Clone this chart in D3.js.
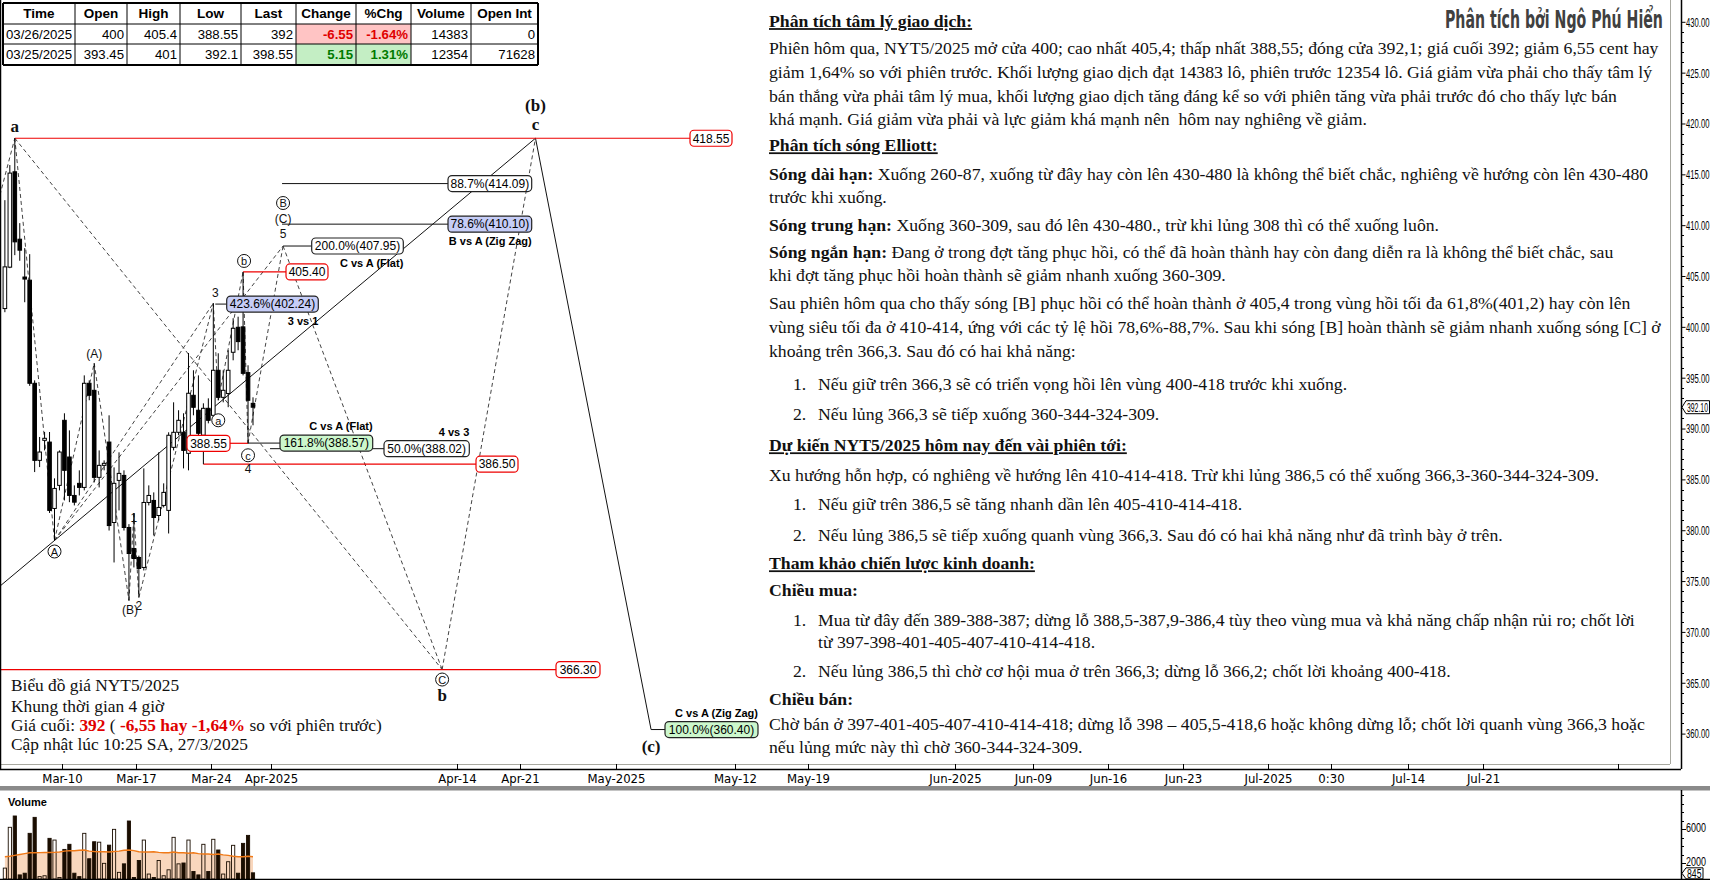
<!DOCTYPE html>
<html><head><meta charset="utf-8">
<script src="https://cdn.jsdelivr.net/npm/d3@7/dist/d3.min.js"></script>
<style>html,body{margin:0;padding:0;background:#fff;overflow:hidden}svg{display:block}</style>
</head><body>
<svg id="chart" width="1710" height="880"></svg>
<script>
// ================= DATA =================
const sessionDays = ["2025-03-04","2025-03-05","2025-03-06","2025-03-07","2025-03-10","2025-03-11","2025-03-12","2025-03-13","2025-03-14","2025-03-17","2025-03-18","2025-03-19","2025-03-20","2025-03-21","2025-03-24","2025-03-25","2025-03-26"];
const barHours = ["04:00","12:00","20:00"];
const opens  = [401.8,405.87,415.25,408.62,404.9,404.59,394.45,386.87,388.84,388.67,382.14,384.41,390.81,387.2,383.42,384.61,384.21,394.45,393.76,385.2,386.38,388.67,380.76,384.9,385.39,380.27,378.2,377.32,376.34,382.73,382.93,381.45,382.44,381.95,388.15,389.63,389.63,387.56,393.27,391.8,389.34,391.99,391.3,395.73,393.07,393.45,397.5,399.96,400.0,395.5,392.48];
const highs  = [412.46,415.91,418.55,410.2,407.74,407.15,394.74,389.17,389.66,389.66,385.1,387.85,391.5,389.82,384.41,385.89,395.23,394.74,396.42,387.85,386.87,391.3,386.18,387.66,385.89,380.6,381.65,377.5,386.08,384.41,383.72,387.66,384.61,389.63,392.58,391.8,391.5,397.43,395.73,395.23,392.48,392.97,402.32,397.4,395.73,397.7,400.85,401.0,405.4,396.22,393.07];
const lows   = [401.44,405.77,407.05,406.5,402.42,394.2,385.72,386.21,387.85,381.7,378.99,383.92,382.93,382.76,382.44,383.42,383.92,392.78,384.7,384.21,385.89,379.97,376.83,381.95,379.97,373.09,376.34,373.39,376.04,382.44,379.48,380.96,382.24,379.68,387.85,389.34,386.08,385.89,391.3,388.84,386.5,390.51,391.0,392.78,392.58,392.1,396.71,397.7,395.23,388.55,390.32];
const closes = [405.9,415.12,408.36,407.54,404.7,394.45,386.87,387.69,389.04,381.95,384.11,387.69,385.89,383.42,382.76,384.21,394.45,393.27,385.2,386.38,386.58,380.46,384.61,385.59,380.27,377.71,377.22,376.24,382.73,383.42,381.25,382.24,383.72,389.34,389.63,390.81,387.85,393.47,392.09,389.53,391.99,390.81,395.73,393.07,393.76,395.73,399.86,398.55,395.43,392.78,392.1];
const volumes = [1400,6200,7530,600,800,5490,7370,400,500,4900,4700,300,3600,4200,800,400,5490,2500,4500,4450,1960,4100,5960,900,1900,6940,300,2300,4700,700,300,2300,500,1200,5020,1900,2000,4700,1000,600,4200,1000,4790,3530,700,2150,4080,800,4310,5250,845];
const volumeMA = [2740,2800,2900,3000,3100,3200,3210,3220,3230,3240,3250,3300,3400,3450,3450,3500,3530,3400,3350,3330,3330,3300,3350,3400,3500,3530,3450,3330,3300,3300,3330,3250,3210,3210,3300,3210,3210,3150,3200,3100,3060,3060,3000,3060,2950,2900,2800,2740,2740,2800,2740];

const xTickDates  = ["2025-03-10","2025-03-17","2025-03-24","2025-04-01","2025-04-14","2025-04-21","2025-05-01","2025-05-12","2025-05-19","2025-06-02","2025-06-09","2025-06-16","2025-06-23","2025-07-01","2025-07-07","2025-07-14","2025-07-21","2025-08-01"];
const xTickLabels = ["Mar-10","Mar-17","Mar-24","Apr-2025","Apr-14","Apr-21","May-2025","May-12","May-19","Jun-2025","Jun-09","Jun-16","Jun-23","Jul-2025","0:30","Jul-14","Jul-21",""];
const priceTicks = [360,365,370,375,380,385,390,395,400,405,410,415,420,425,430];
const volumeTickLabels = [2000,6000];

const wavePointNames  = ["start","a","A","(A)","(B)","1","2","3","wa","wb","wc","5","b","c","(c)"];
const wavePointTimes  = ["2025-03-03 20:00","2025-03-04 20:00","2025-03-07 12:00","2025-03-12 04:00","2025-03-14 12:00","2025-03-14 20:00","2025-03-17 04:00","2025-03-24 04:00","2025-03-24 12:00","2025-03-26 04:00","2025-03-26 12:00","2025-04-01 14:00","2025-04-11 06:44","2025-04-22 07:00","2025-05-05 01:30"];
const wavePointPrices = [412.95,418.55,378.99,396.42,373.09,381.65,373.39,402.32,392.78,405.4,388.55,407.95,366.3,418.55,360.4];

const levelPrices = [418.55,405.40,388.55,386.50,366.30];
const fibTexts  = ["423.6%(402.24)","200.0%(407.95)","78.6%(410.10)","88.7%(414.09)","161.8%(388.57)","50.0%(388.02)","100.0%(360.40)"];
const fibPrices = [402.24,407.95,410.10,414.09,388.57,388.02,360.40];
const fibNotes  = ["3 vs 1","C vs A (Flat)","B vs A (Zig Zag)","","C vs A (Flat)","4 vs 3","C vs A (Zig Zag)"];

const tableHeaders = ["Time","Open","High","Low","Last","Change","%Chg","Volume","Open Int"];
const tableRows = [["03/26/2025","400","405.4","388.55","392","-6.55","-1.64%","14383","0"],
                   ["03/25/2025","393.45","401","392.1","398.55","5.15","1.31%","12354","71628"]];
const lastPrice = 392.10, lastVolume = 845;

// ================= SETUP =================
const W = 1710, H = 880;
const svg = d3.select("#chart");
svg.append("rect").attr("width",W).attr("height",H).attr("fill","#fff");
const plotRight = 1670, axisX = 1681, plotBottom = 764, xAxisY = 769, volTop = 790, volBottom = 879;
const SANS = "'Liberation Sans',Arial,sans-serif";
const NARROW = "'Liberation Sans Narrow','Arial Narrow','DejaVu Sans Condensed',sans-serif";
const SERIF = "'Liberation Serif','Times New Roman',serif";

const baseDay = Date.UTC(2025,2,10);
function tIndex(s){
  const [d,t] = s.split(" ");
  const [Y,M,D] = d.split("-").map(Number);
  const target = Date.UTC(Y,M-1,D);
  let n=0, cur=baseDay;
  if(target>=baseDay){ while(cur<target){cur+=86400000; const wd=new Date(cur).getUTCDay(); if(wd!==0&&wd!==6) n++;} }
  else { while(cur>target){cur-=86400000; const wd=new Date(cur).getUTCDay(); if(wd!==0&&wd!==6) n--;} }
  let frac=0; if(t){const [h,m]=t.split(":").map(Number); frac=(h+m/60)/24;}
  return n+frac;
}
// piecewise time scale calibrated to the reference's axis layout
const x = d3.scaleLinear()
  .domain(["2025-03-04","2025-03-26 20:00","2025-04-01","2025-04-14","2025-04-21","2025-05-01","2025-05-12","2025-05-19","2025-06-02","2025-06-09","2025-06-16","2025-06-23","2025-07-01","2025-07-07","2025-07-14","2025-07-21"].map(tIndex))
  .range([2.4,253,271,457,520,616,735,808,955,1033,1108,1183,1268,1331,1408,1483]);
const y = d3.scaleLinear().domain([360,430]).range([733.6,21.8]);
const yv = d3.scaleLinear().domain([0,6000]).range([880,829]);

const barTimes = sessionDays.flatMap(d=>barHours.map(h=>d+" "+h));
const bars = barTimes.map((t,i)=>({t, xi:x(tIndex(t)), o:opens[i], h:highs[i], l:lows[i], c:closes[i], v:volumes[i], ma:volumeMA[i]}));
const P = {}; wavePointNames.forEach((n,i)=>{P[n]={x:x(tIndex(wavePointTimes[i])), y:y(wavePointPrices[i])};});

svg.append("defs").append("clipPath").attr("id","plotclip").append("rect").attr("x",0).attr("y",0).attr("width",plotRight).attr("height",plotBottom);
const g = svg.append("g").attr("clip-path","url(#plotclip)");

function fitText(parent,txt,x0,yc,targetW,fs,opt={}){
  const t = parent.append("text").attr("x",0).attr("y",0).attr("dy","0.36em").attr("font-family",opt.family||SANS)
    .attr("font-size",fs).attr("font-weight",opt.bold?"bold":"normal").attr("fill",opt.fill||"#000").text(txt);
  const w = t.node().getComputedTextLength();
  const s = Math.min(1,targetW/w);
  const ax = opt.anchor==="end" ? x0 - w*s : x0;
  t.attr("transform",`translate(${ax},${yc}) scale(${s},1)`);
  return t;
}

// ================= LINES =================
const dashedPairs = [["start","a"],["a","A"],["a","b"],["A","(A)"],["(A)","(B)"],["(B)","1"],["1","2"],["2","3"],["A","3"],["3","wa"],["wa","wb"],["wb","wc"],["wc","5"],["A","5"],["5","b"],["b","c"]];
g.selectAll("line.dash").data(dashedPairs).join("line").attr("class","dash")
  .attr("x1",d=>P[d[0]].x).attr("y1",d=>P[d[0]].y).attr("x2",d=>P[d[1]].x).attr("y2",d=>P[d[1]].y)
  .attr("stroke","#444").attr("stroke-width",1).attr("stroke-dasharray","4,3");
{ const m=(P.c.y-P.A.y)/(P.c.x-P.A.x); const y0=P.A.y-m*P.A.x;
  g.append("line").attr("x1",0).attr("y1",y0).attr("x2",P.c.x).attr("y2",P.c.y).attr("stroke","#111").attr("stroke-width",1);}
g.append("line").attr("x1",P.c.x).attr("y1",P.c.y).attr("x2",P["(c)"].x).attr("y2",P["(c)"].y).attr("stroke","#111").attr("stroke-width",1);

const levelLayout = [
  {x1:P.a.x, bx:690, bw:42},
  {x1:P.wb.x, bx:286, bw:42},
  {x1:P.wc.x, bx:187, bw:43, left:true},
  {x1:x(tIndex(barTimes[40])), bx:476, bw:42},
  {x1:0, bx:556, bw:44}
];
levelPrices.forEach((p,i)=>{
  const L=levelLayout[i], yy=y(p);
  if(L.left) g.append("line").attr("x1",L.bx+L.bw).attr("x2",L.x1).attr("y1",yy).attr("y2",yy).attr("stroke","#e00").attr("stroke-width",1.2);
  else g.append("line").attr("x1",L.x1).attr("x2",L.bx).attr("y1",yy).attr("y2",yy).attr("stroke","#e00").attr("stroke-width",1.2);
});
const fibLayout = [
  {x1:P["3"].x+2, bx:226.7, bw:91.6, fill:"#c6cdf7", note:"below"},
  {x1:P["5"].x, bx:311.7, bw:91.6, fill:"#fff", note:"below"},
  {x1:P["5"].x-1, bx:448, bw:83.7, fill:"#c6cdf7", note:"below"},
  {x1:P["5"].x-1, bx:448, bw:83.7, fill:"#fff", note:"none"},
  {x1:P.wc.x, bx:280, bw:92.7, fill:"#ccf7cc", note:"above"},
  {x1:P.wc.x+22, bx:384, bw:85.3, fill:"#fff", note:"above"},
  {x1:P["(c)"].x, bx:665, bw:93, fill:"#ccf7cc", note:"above"}
];
fibPrices.forEach((p,i)=>{
  const L=fibLayout[i], yy=y(p);
  g.append("line").attr("x1",L.x1).attr("x2",L.bx).attr("y1",yy).attr("y2",yy).attr("stroke","#111").attr("stroke-width",1);
});

// ================= CANDLES =================
const bw=3.6;
const cg = g.append("g");
cg.selectAll("line.wick").data(bars).join("line").attr("class","wick")
  .attr("x1",d=>d.xi).attr("x2",d=>d.xi).attr("y1",d=>y(d.h)).attr("y2",d=>y(d.l)).attr("stroke","#000").attr("stroke-width",1);
cg.selectAll("rect.body").data(bars).join("rect").attr("class","body")
  .attr("x",d=>d.xi-bw/2).attr("width",bw)
  .attr("y",d=>y(Math.max(d.o,d.c))).attr("height",d=>Math.max(1,Math.abs(y(d.o)-y(d.c))))
  .attr("fill",d=>d.c<d.o?"#000":"#fff").attr("stroke","#000").attr("stroke-width",1);

// ================= BOXES =================
function roundBox(parent,bx,cy,w,h,fill,stroke,text,fs){
  parent.append("rect").attr("x",bx).attr("y",cy-h/2).attr("width",w).attr("height",h).attr("rx",4).attr("ry",4)
    .attr("fill",fill).attr("stroke",stroke).attr("stroke-width",1.2);
  parent.append("text").attr("x",bx+w/2).attr("y",cy).attr("dy","0.36em").attr("text-anchor","middle")
    .attr("font-family",SANS).attr("font-size",fs).attr("fill","#000").text(text);
}
const ag = svg.append("g");
levelPrices.forEach((p,i)=>{ const L=levelLayout[i]; roundBox(ag,L.bx,y(p),L.bw,16,"#fff","#e00",d3.format(".2f")(p),12); });
fibPrices.forEach((p,i)=>{
  const L=fibLayout[i], yy=y(p);
  roundBox(ag,L.bx,yy,L.bw,16,L.fill,"#222",fibTexts[i],12);
  if(L.note==="below") ag.append("text").attr("x",L.bx+L.bw).attr("y",yy+21).attr("text-anchor","end").attr("font-family",SANS).attr("font-weight","bold").attr("font-size",11).text(fibNotes[i]);
  if(L.note==="above") ag.append("text").attr("x",L.bx+L.bw).attr("y",yy-13).attr("text-anchor","end").attr("font-family",SANS).attr("font-weight","bold").attr("font-size",11).text(fibNotes[i]);
});

// ================= WAVE LABELS =================
function lbl(txt,px,py,opt={}){
  ag.append("text").attr("x",px).attr("y",py).attr("dy","0.36em").attr("text-anchor","middle")
    .attr("font-family",opt.serif?SERIF:SANS).attr("font-weight",opt.bold?"bold":"normal").attr("font-size",opt.fs||12).attr("fill","#111").text(txt);
}
function circ(txt,px,py){
  ag.append("circle").attr("cx",px).attr("cy",py).attr("r",6.5).attr("fill","#fff").attr("stroke","#111").attr("stroke-width",1);
  lbl(txt,px,py+0.5,{fs:11});
}
lbl("a",P.a.x,P.a.y-12,{serif:1,bold:1,fs:17});
circ("A",P.A.x,P.A.y+11);
lbl("(A)",P["(A)"].x,P["(A)"].y-10,{fs:12});
lbl("(B)",P["(B)"].x+1,P["(B)"].y+9,{fs:12});
lbl("2",P["2"].x,P["2"].y+8,{fs:12});
lbl("1",P["1"].x,P["1"].y+4,{fs:12});
lbl("3",P["3"].x+2,P["3"].y-11,{fs:12});
circ("a",P.wa.x,P.wa.y+20);
circ("b",P.wb.x+1,P.wb.y-11);
circ("c",P.wc.x,P.wc.y+12);
lbl("4",P.wc.x,P.wc.y+25,{fs:12});
lbl("5",P["5"].x,P["5"].y-12,{fs:12});
lbl("(C)",P["5"].x,P["5"].y-27,{fs:12});
circ("B",P["5"].x,P["5"].y-43);
circ("C",P.b.x,P.b.y+10);
lbl("b",P.b.x,P.b.y+25,{serif:1,bold:1,fs:17});
lbl("c",P.c.x,P.c.y-14,{serif:1,bold:1,fs:17});
lbl("(b)",P.c.x,P.c.y-33,{serif:1,bold:1,fs:17});
lbl("(c)",P["(c)"].x,P["(c)"].y+16,{serif:1,bold:1,fs:17});

// ================= AXES =================
svg.append("line").attr("x1",0).attr("x2",plotRight).attr("y1",plotBottom+0.5).attr("y2",plotBottom+0.5).attr("stroke","#a8a8a0");
svg.append("line").attr("x1",plotRight+0.5).attr("x2",plotRight+0.5).attr("y1",0).attr("y2",plotBottom).attr("stroke","#a8a8a0");
svg.append("line").attr("x1",0.5).attr("x2",0.5).attr("y1",0).attr("y2",xAxisY).attr("stroke","#000").attr("stroke-width",1.5);
svg.append("line").attr("x1",0).attr("x2",axisX).attr("y1",xAxisY+0.5).attr("y2",xAxisY+0.5).attr("stroke","#000").attr("stroke-width",1.5);
svg.append("line").attr("x1",axisX+0.5).attr("x2",axisX+0.5).attr("y1",0).attr("y2",xAxisY).attr("stroke","#000").attr("stroke-width",1.5);
const xg = svg.append("g");
xTickDates.forEach((d,i)=>{
  const xx = Math.round(x(tIndex(d)))+0.5;
  xg.append("line").attr("x1",xx).attr("x2",xx).attr("y1",plotBottom).attr("y2",xAxisY).attr("stroke","#000");
  xg.append("text").attr("x",xx).attr("y",783).attr("text-anchor","middle").attr("font-family",NARROW).attr("font-size",13).attr("fill","#000").text(xTickLabels[i]);
});
const yAxis = d3.axisRight(y).tickValues(priceTicks).tickFormat("").tickSize(4);
const yAxG = svg.append("g").attr("transform",`translate(${axisX+0.5},0)`).call(yAxis);
yAxG.select(".domain").remove();
const fmt2 = d3.format(".2f");
priceTicks.forEach(v=>fitText(svg,fmt2(v),axisX+5,y(v),23.5,13.5));
const minorP = d3.range(360,431,1).filter(v=>v%5!==0);
svg.append("g").selectAll("line").data(minorP).join("line").attr("x1",axisX).attr("x2",axisX+3).attr("y1",d=>Math.round(y(d))+0.5).attr("y2",d=>Math.round(y(d))+0.5).attr("stroke","#000");
function marker(yy,txt,w,hh){
  const x0=axisX+1;
  svg.append("path").attr("d",`M${x0},${yy} L${x0+4},${yy-hh} L${x0+4+w},${yy-hh} L${x0+4+w},${yy+hh} L${x0+4},${yy+hh} Z`).attr("fill","#fff").attr("stroke","#000");
  fitText(svg,txt,x0+5,yy,w-2.5,13);
}
marker(y(lastPrice),fmt2(lastPrice),23.5,6.5);

// ================= VOLUME PANEL =================
svg.append("rect").attr("x",0).attr("y",786).attr("width",W).attr("height",4.5).attr("fill","#8a8a8a");
svg.append("text").attr("x",8).attr("y",806).attr("font-family",SANS).attr("font-weight","bold").attr("font-size",11).text("Volume");
const area = d3.area().x(d=>d.xi).y0(volBottom).y1(d=>yv(d.ma));
svg.append("path").datum(bars).attr("d",area).attr("fill","#f9d7bd");
svg.append("g").selectAll("rect").data(bars).join("rect")
  .attr("x",d=>d.xi-1.6).attr("width",3.2).attr("y",d=>yv(d.v)).attr("height",d=>volBottom-yv(d.v))
  .attr("fill",d=>d.c<d.o?"#1a0d00":"none").attr("stroke","#1a0d00").attr("stroke-width",0.9);
svg.append("path").datum(bars).attr("d",d3.line().x(d=>d.xi).y(d=>yv(d.ma))).attr("fill","none").attr("stroke","#f07a18").attr("stroke-width",1.4);
svg.append("line").attr("x1",axisX+0.5).attr("x2",axisX+0.5).attr("y1",volTop).attr("y2",volBottom).attr("stroke","#000").attr("stroke-width",1.5);
svg.append("line").attr("x1",0).attr("x2",W).attr("y1",volBottom+0.5).attr("y2",volBottom+0.5).attr("stroke","#000").attr("stroke-width",1.5);
const vMinor = d3.range(1000,11000,1000);
svg.append("g").selectAll("line").data(vMinor).join("line").attr("x1",axisX).attr("x2",d=>axisX+(volumeTickLabels.includes(d)?5:3))
  .attr("y1",d=>Math.round(yv(d))+0.5).attr("y2",d=>Math.round(yv(d))+0.5).attr("stroke","#000");
volumeTickLabels.forEach(v=>fitText(svg,String(v),axisX+5,yv(v)-1.5,20,12.5));
marker(yv(lastVolume)+0.5,String(lastVolume),17,5.5);

// ================= TEXT PANEL =================
const tp = svg.append("g");
const panelLeft = 769, panelRightTarget = 1659;
const line1 = "Phiên hôm qua, NYT5/2025 mở cửa 400; cao nhất 405,4; thấp nhất 388,55; đóng cửa 392,1; giá cuối 392; giảm 6,55 cent hay";
const probe = svg.append("text").attr("font-family",SERIF).attr("font-size",100).text(line1);
const fsPanel = Math.min(18.5, 100*(panelRightTarget-panelLeft)/probe.node().getComputedTextLength());
probe.remove();
const panelLines = [
 {y:21.8, s:[{t:"Phân tích tâm lý giao dịch:",b:1,u:1}]},
 {y:49, s:[{t:line1}]},
 {y:73, s:[{t:"giảm 1,64% so với phiên trước. Khối lượng giao dịch đạt 14383 lô, phiên trước 12354 lô. Giá giảm vừa phải cho thấy tâm lý"}]},
 {y:96.5, s:[{t:"bán thắng vừa phải tâm lý mua, khối lượng giao dịch tăng đáng kể so với phiên tăng vừa phải trước đó cho thấy lực bán"}]},
 {y:120, s:[{t:"khá mạnh. Giá giảm vừa phải và lực giảm khá mạnh nên  hôm nay nghiêng về giảm."}]},
 {y:146, s:[{t:"Phân tích sóng Elliott:",b:1,u:1}]},
 {y:174.5, s:[{t:"Sóng dài hạn:",b:1},{t:" Xuống 260-87, xuống từ đây hay còn lên 430-480 là không thể biết chắc, nghiêng về hướng còn lên 430-480"}]},
 {y:197.5, s:[{t:"trước khi xuống."}]},
 {y:225.7, s:[{t:"Sóng trung hạn:",b:1},{t:" Xuống 360-309, sau đó lên 430-480., trừ khi lủng 308 thì có thể xuống luôn."}]},
 {y:253, s:[{t:"Sóng ngắn hạn:",b:1},{t:" Đang ở trong đợt tăng phục hồi, có thể đã hoàn thành hay còn đang diễn ra là không thể biết chắc, sau"}]},
 {y:276, s:[{t:"khi đợt tăng phục hồi hoàn thành sẽ giảm nhanh xuống 360-309."}]},
 {y:304, s:[{t:"Sau phiên hôm qua cho thấy sóng [B] phục hồi có thể hoàn thành ở 405,4 trong vùng hồi tối đa 61,8%(401,2) hay còn lên"}]},
 {y:328, s:[{t:"vùng siêu tối đa ở 410-414, ứng với các tỷ lệ hồi 78,6%-88,7%. Sau khi sóng [B] hoàn thành sẽ giảm nhanh xuống sóng [C] ở"}]},
 {y:352, s:[{t:"khoảng trên 366,3. Sau đó có hai khả năng:"}]},
 {y:385, n:"1.", s:[{t:"Nếu giữ trên 366,3 sẽ có triển vọng hồi lên vùng 400-418 trước khi xuống."}]},
 {y:414.4, n:"2.", s:[{t:"Nếu lủng 366,3 sẽ tiếp xuống 360-344-324-309."}]},
 {y:446, s:[{t:"Dự kiến NYT5/2025 hôm nay đến vài phiên tới:",b:1,u:1}]},
 {y:475.5, s:[{t:"Xu hướng hỗn hợp, có nghiêng về hướng lên 410-414-418. Trừ khi lủng 386,5 có thể xuống 366,3-360-344-324-309."}]},
 {y:505, n:"1.", s:[{t:"Nếu giữ trên 386,5 sẽ tăng nhanh dần lên 405-410-414-418."}]},
 {y:535.5, n:"2.", s:[{t:"Nếu lủng 386,5 sẽ tiếp xuống quanh vùng 366,3. Sau đó có hai khả năng như đã trình bày ở trên."}]},
 {y:564, s:[{t:"Tham khảo chiến lược kinh doanh:",b:1,u:1}]},
 {y:591, s:[{t:"Chiều mua:",b:1}]},
 {y:620.5, n:"1.", s:[{t:"Mua từ đây đến 389-388-387; dừng lỗ 388,5-387,9-386,4 tùy theo vùng mua và khả năng chấp nhận rủi ro; chốt lời"}]},
 {y:642.4, n:"", s:[{t:"từ 397-398-401-405-407-410-414-418."}]},
 {y:672, n:"2.", s:[{t:"Nếu lủng 386,5 thì chờ cơ hội mua ở trên 366,3; dừng lỗ 366,2; chốt lời khoảng 400-418."}]},
 {y:700, s:[{t:"Chiều bán:",b:1}]},
 {y:725, s:[{t:"Chờ bán ở 397-401-405-407-410-414-418; dừng lỗ 398 – 405,5-418,6 hoặc không dừng lỗ; chốt lời quanh vùng 366,3 hoặc"}]},
 {y:748, s:[{t:"nếu lủng mức này thì chờ 360-344-324-309."}]}
];
panelLines.forEach(L=>{
  const base = L.y + fsPanel*0.3;
  let x0 = panelLeft;
  if(L.n!==undefined){
    if(L.n) tp.append("text").attr("x",panelLeft+24).attr("y",base).attr("font-family",SERIF).attr("font-size",fsPanel).attr("fill","#111").text(L.n);
    x0 = panelLeft+49;
  }
  const t = tp.append("text").attr("x",x0).attr("y",base).attr("font-family",SERIF).attr("font-size",fsPanel).attr("fill","#111").style("white-space","pre");
  L.s.forEach(s=>{ const ts=t.append("tspan").text(s.t); if(s.b) ts.attr("font-weight","bold"); if(s.u) ts.style("text-decoration","underline"); });
});
fitText(svg,"Phân tích bởi Ngô Phú Hiển",1663,19,218,25,{family:"'Liberation Sans Narrow','DejaVu Sans Condensed','Open Sans',sans-serif",bold:1,fill:"#404040",anchor:"end"});
const infoLines = [
 {y:686, s:[{t:"Biểu đồ giá NYT5/2025"}]},
 {y:706.5, s:[{t:"Khung thời gian 4 giờ"}]},
 {y:725.5, s:[{t:"Giá cuối: "},{t:"392",r:1},{t:" ( "},{t:"-6,55 hay -1,64%",r:1},{t:" so với phiên trước)"}]},
 {y:745, s:[{t:"Cập nhật lúc 10:25 SA, 27/3/2025"}]}
];
infoLines.forEach(L=>{
  const t = svg.append("text").attr("x",11).attr("y",L.y+fsPanel*0.3).attr("font-family",SERIF).attr("font-size",fsPanel*0.98).attr("fill","#111").style("white-space","pre");
  L.s.forEach(s=>{ const ts=t.append("tspan").text(s.t); if(s.r) ts.attr("font-weight","bold").attr("fill","#e00000"); });
});

// ================= TABLE =================
const colEdges = [3,75,127,180,241,296,356,411,471,538];
const rowEdges = [3,24,44,65];
const tg = svg.append("g");
tg.append("rect").attr("x",colEdges[0]).attr("y",rowEdges[0]).attr("width",colEdges[9]-colEdges[0]).attr("height",rowEdges[3]-rowEdges[0]).attr("fill","#fff");
const cellBg = ["#ffc4c4","#c4eec4"];
tableRows.forEach((r,ri)=>{
  [5,6].forEach(ci=>tg.append("rect").attr("x",colEdges[ci]).attr("y",rowEdges[ri+1]).attr("width",colEdges[ci+1]-colEdges[ci]).attr("height",rowEdges[ri+2]-rowEdges[ri+1]).attr("fill",cellBg[ri]));
});
const tfs = 13.2;
tableHeaders.forEach((h,ci)=>{
  tg.append("text").attr("x",(colEdges[ci]+colEdges[ci+1])/2).attr("y",(rowEdges[0]+rowEdges[1])/2).attr("dy","0.36em").attr("text-anchor","middle")
    .attr("font-family",SANS).attr("font-weight","bold").attr("font-size",tfs+0.3).text(h);
});
tableRows.forEach((r,ri)=>{
  r.forEach((v,ci)=>{
    const left = ci===0;
    const t = tg.append("text").attr("x",left?colEdges[ci]+3:colEdges[ci+1]-3).attr("y",(rowEdges[ri+1]+rowEdges[ri+2])/2).attr("dy","0.36em")
      .attr("text-anchor",left?"start":"end").attr("font-family",SANS).attr("font-size",tfs).text(v);
    if(ci===5||ci===6) t.attr("font-weight","bold").attr("fill",ri===0?"#e00000":"#007a00");
  });
});
colEdges.forEach((cx,i)=>tg.append("line").attr("x1",cx).attr("x2",cx).attr("y1",rowEdges[0]).attr("y2",rowEdges[3]).attr("stroke","#000").attr("stroke-width",(i===0||i===9)?2:1));
rowEdges.forEach((ry,i)=>tg.append("line").attr("x1",colEdges[0]).attr("x2",colEdges[9]).attr("y1",ry).attr("y2",ry).attr("stroke","#000").attr("stroke-width",(i===0||i===3)?2:1));
</script>
</body></html>
